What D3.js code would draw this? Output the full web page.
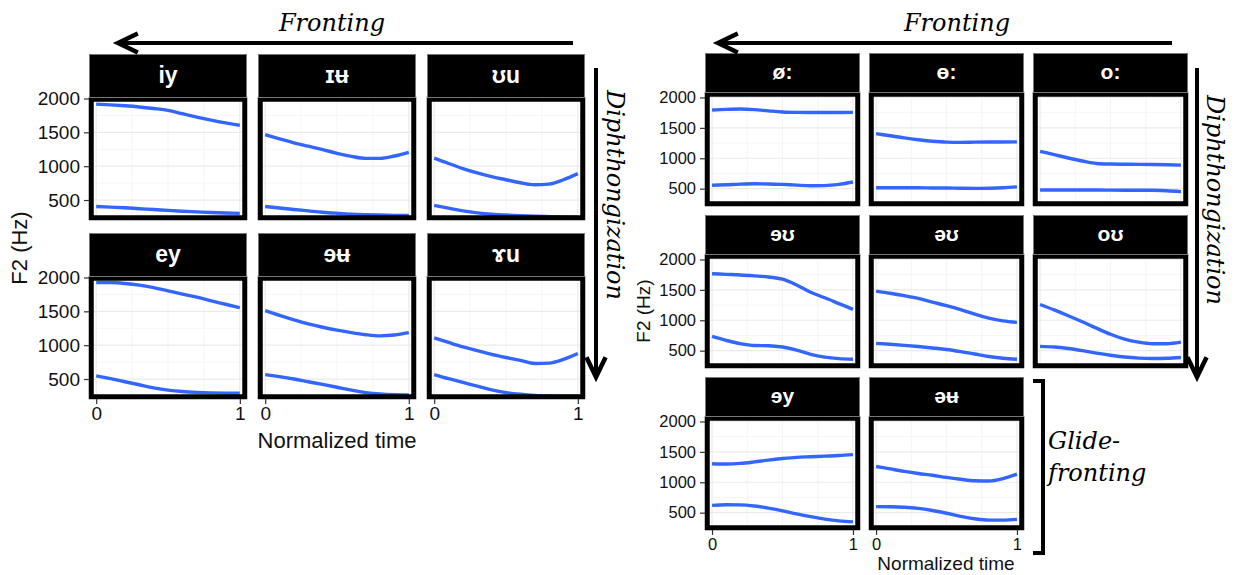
<!DOCTYPE html>
<html>
<head>
<meta charset="utf-8">
<script src="https://cdn.jsdelivr.net/npm/d3@7"></script>
<style>
  body { margin: 0; background: #fff; }
  svg { display: block; }
</style>
</head>
<body>
<script>
// normalized time samples (0..1) shared by every panel
var timePoints = [0, 0.1, 0.2, 0.3, 0.4, 0.5, 0.6, 0.7, 0.8, 0.9, 1];

// left figure: 2 x 3 facets
var leftLabels = ["iy", "ɪʉ", "ʊu", "ey", "ɘʉ", "ɤu"];
var leftUpper = [
  [1916, 1905, 1892, 1875, 1852, 1825, 1775, 1725, 1680, 1640, 1605],
  [1465, 1405, 1345, 1295, 1245, 1190, 1145, 1115, 1115, 1150, 1205],
  [1120, 1040, 965, 900, 845, 800, 755, 725, 735, 800, 890],
  [1926, 1925, 1912, 1888, 1850, 1803, 1755, 1710, 1655, 1605, 1553],
  [1510, 1440, 1375, 1315, 1265, 1222, 1185, 1155, 1138, 1150, 1185],
  [1108, 1040, 975, 920, 865, 818, 775, 730, 735, 790, 877]
];
var leftLower = [
  [405, 395, 385, 372, 360, 347, 335, 325, 315, 308, 303],
  [405, 382, 360, 340, 320, 305, 292, 284, 278, 274, 272],
  [420, 380, 340, 310, 290, 278, 268, 260, 255, 251, 248],
  [547, 505, 460, 415, 370, 336, 315, 303, 296, 292, 290],
  [566, 535, 500, 460, 420, 378, 335, 300, 278, 268, 265],
  [566, 505, 450, 395, 340, 300, 275, 258, 250, 247, 246]
];

// right figure: 3 rows, last row has 2 facets
var rightLabels = ["ø:", "ɵ:", "o:", "ɘʊ", "əʊ", "oʊ", "ɘy", "əʉ"];
var rightUpper = [
  [1795, 1805, 1810, 1800, 1780, 1762, 1755, 1753, 1753, 1753, 1755],
  [1405, 1370, 1335, 1305, 1280, 1265, 1262, 1265, 1267, 1268, 1270],
  [1115, 1060, 1005, 955, 915, 905, 902, 900, 897, 893, 888],
  [1765, 1755, 1745, 1730, 1712, 1675, 1580, 1460, 1370, 1275, 1180],
  [1480, 1445, 1405, 1360, 1300, 1240, 1175, 1100, 1035, 990, 965],
  [1260, 1170, 1075, 975, 870, 770, 690, 640, 615, 615, 640],
  [1305, 1300, 1310, 1335, 1365, 1390, 1410, 1420, 1430, 1440, 1455],
  [1260, 1220, 1180, 1145, 1115, 1080, 1050, 1025, 1020, 1060, 1135]
];
var rightLower = [
  [556, 565, 575, 580, 578, 570, 558, 548, 550, 570, 610],
  [515, 515, 515, 515, 512, 510, 507, 505, 508, 515, 530],
  [478, 478, 478, 477, 477, 476, 475, 474, 473, 465, 452],
  [735, 670, 615, 585, 582, 560, 510, 440, 395, 370, 360],
  [620, 605, 588, 568, 545, 520, 485, 445, 405, 375, 360],
  [570, 560, 535, 500, 460, 425, 395, 378, 372, 375, 388],
  [620, 630, 628, 610, 575, 530, 480, 435, 395, 365, 348],
  [600, 598, 590, 570, 535, 490, 440, 400, 378, 378, 390]
];

var yTicks = [500, 1000, 1500, 2000];
var yMinor = [250, 750, 1250, 1750];
var xTicks = [0, 1];
var xMinor = [0.25, 0.5, 0.75];

var svg = d3.select("body").append("svg")
  .attr("width", 1239).attr("height", 575);

var sans = "'Liberation Sans', Arial, Helvetica, sans-serif";
var serif = "'DejaVu Serif', serif";

function drawBlock(cfg) {
  var g = svg.append("g");
  var x = d3.scaleLinear().domain([-0.05, 1.05]).range([0, cfg.pw]);
  var y = d3.scaleLinear().domain(cfg.yDomain).range([cfg.ph, 0]);
  var line = d3.line()
    .x(function(d) { return x(d[0]); })
    .y(function(d) { return y(d[1]); })
    .curve(d3.curveMonotoneX);

  cfg.labels.forEach(function(lab, i) {
    var col = i % 3, row = Math.floor(i / 3);
    var px = cfg.colX[col];
    var sy = cfg.rowY[row];
    var py = sy + cfg.sh;
    var p = g.append("g").attr("transform", "translate(" + px + "," + py + ")");

    // strip
    g.append("rect")
      .attr("x", px + 0.5).attr("y", sy + 0.5)
      .attr("width", cfg.pw - 1).attr("height", cfg.sh)
      .attr("fill", "#000").attr("stroke", "#777").attr("stroke-width", 1);
    g.append("text")
      .attr("x", px + cfg.pw / 2).attr("y", sy + cfg.sh / 2 + 1)
      .attr("text-anchor", "middle").attr("dominant-baseline", "middle")
      .attr("fill", "#fff").attr("font-weight", "bold")
      .attr("font-family", sans).attr("font-size", cfg.stripFont)
      .text(lab);

    // panel background and grid
    p.append("rect").attr("width", cfg.pw).attr("height", cfg.ph).attr("fill", "#fff");
    p.selectAll("line.ymin").data(yMinor).enter().append("line")
      .attr("x1", 0).attr("x2", cfg.pw)
      .attr("y1", function(d) { return y(d); }).attr("y2", function(d) { return y(d); })
      .attr("stroke", "#f4f4f4").attr("stroke-width", 0.8);
    p.selectAll("line.xmin").data(xMinor).enter().append("line")
      .attr("y1", 0).attr("y2", cfg.ph)
      .attr("x1", function(d) { return x(d); }).attr("x2", function(d) { return x(d); })
      .attr("stroke", "#f2f2f2").attr("stroke-width", 0.8);
    p.selectAll("line.ymaj").data(yTicks).enter().append("line")
      .attr("x1", 0).attr("x2", cfg.pw)
      .attr("y1", function(d) { return y(d); }).attr("y2", function(d) { return y(d); })
      .attr("stroke", "#ebebeb").attr("stroke-width", 1.2);
    p.selectAll("line.xmaj").data(xTicks).enter().append("line")
      .attr("y1", 0).attr("y2", cfg.ph)
      .attr("x1", function(d) { return x(d); }).attr("x2", function(d) { return x(d); })
      .attr("stroke", "#ebebeb").attr("stroke-width", 1.2);

    // the two formant tracks
    [cfg.lower[i], cfg.upper[i]].forEach(function(vals) {
      p.append("path")
        .datum(timePoints.map(function(t, k) { return [t, vals[k]]; }))
        .attr("d", line)
        .attr("fill", "none").attr("stroke", "#3366FF")
        .attr("stroke-width", 3.4);
    });

    // thick border
    p.append("rect")
      .attr("x", 2.25).attr("y", 2.25).attr("width", cfg.pw - 4.5).attr("height", cfg.ph - 4.5)
      .attr("fill", "none").attr("stroke", "#000").attr("stroke-width", 5);

    // y axis on first column
    if (col === 0) {
      var ya = p.append("g").call(d3.axisLeft(y).tickValues(yTicks).tickSize(5).tickPadding(4).tickFormat(d3.format("d")));
      ya.select(".domain").remove();
      ya.selectAll("line").attr("stroke", "#333").attr("stroke-width", 1.2);
      ya.selectAll("text").attr("font-family", sans).attr("font-size", cfg.tickFont).attr("fill", "#111");
    }
    // x axis on bottom panels
    if (cfg.bottom.indexOf(i) >= 0) {
      var xa = p.append("g").attr("transform", "translate(0," + cfg.ph + ")")
        .call(d3.axisBottom(x).tickValues(xTicks).tickSize(5).tickPadding(3).tickFormat(d3.format("d")));
      xa.select(".domain").remove();
      xa.selectAll("line").attr("stroke", "#333").attr("stroke-width", 1.2);
      xa.selectAll("text").attr("font-family", sans).attr("font-size", cfg.tickFont).attr("fill", "#111");
    }
  });

  // axis titles
  svg.append("text")
    .attr("x", cfg.xTitle[0]).attr("y", cfg.xTitle[1])
    .attr("text-anchor", "middle").attr("font-family", sans)
    .attr("font-size", cfg.titleFont).attr("fill", "#111")
    .text("Normalized time");
  svg.append("text")
    .attr("transform", "translate(" + cfg.yTitle[0] + "," + cfg.yTitle[1] + ") rotate(-90)")
    .attr("text-anchor", "middle").attr("font-family", sans)
    .attr("font-size", cfg.titleFont).attr("fill", "#111")
    .text("F2 (Hz)");
}

drawBlock({
  labels: leftLabels, upper: leftUpper, lower: leftLower,
  colX: [89, 258, 427], rowY: [54, 233],
  pw: 158, sh: 43, ph: 123,
  yDomain: [205, 2022],
  bottom: [3, 4, 5],
  stripFont: 23, tickFont: 19, titleFont: 22,
  xTitle: [337, 448], yTitle: [27, 248]
});

drawBlock({
  labels: rightLabels, upper: rightUpper, lower: rightLower,
  colX: [705, 869, 1033], rowY: [53, 215, 377],
  pw: 155, sh: 39, ph: 114,
  yDomain: [215, 2090],
  bottom: [6, 7],
  stripFont: 21, tickFont: 16.5, titleFont: 19,
  xTitle: [946, 570], yTitle: [650, 311]
});

// annotation arrows
function arrow(x1, y1, x2, y2) {
  var ang = Math.atan2(y2 - y1, x2 - x1), L = 22, a = 0.45;
  svg.append("line")
    .attr("x1", x1).attr("y1", y1).attr("x2", x2).attr("y2", y2)
    .attr("stroke", "#000").attr("stroke-width", 4);
  svg.append("path")
    .attr("d", "M" + (x2 - L * Math.cos(ang - a)) + "," + (y2 - L * Math.sin(ang - a)) +
      "L" + x2 + "," + y2 +
      "L" + (x2 - L * Math.cos(ang + a)) + "," + (y2 - L * Math.sin(ang + a)))
    .attr("fill", "none").attr("stroke", "#000").attr("stroke-width", 4.5)
    .attr("stroke-linejoin", "miter");
}

function italic(x, y, txt, rot) {
  var t = svg.append("text")
    .attr("font-family", serif).attr("font-style", "italic")
    .attr("font-size", 24).attr("fill", "#000");
  if (rot) {
    t.attr("transform", "translate(" + x + "," + y + ") rotate(90)").attr("text-anchor", "middle");
  } else {
    t.attr("x", x).attr("y", y);
  }
  t.text(txt);
  return t;
}

arrow(573, 43, 118, 43);
italic(332, 31, "Fronting").attr("text-anchor", "middle");
arrow(596, 68, 596, 377);
italic(607, 195, "Diphthongization", true);

arrow(1172, 43, 718, 43);
italic(957, 31, "Fronting").attr("text-anchor", "middle");
arrow(1197, 68, 1197, 377);
italic(1207, 200, "Diphthongization", true);

// glide-fronting bracket
svg.append("path")
  .attr("d", "M1033,381 H1043 V553 H1033")
  .attr("fill", "none").attr("stroke", "#000").attr("stroke-width", 4);
italic(1048, 449, "Glide-");
italic(1048, 481, "fronting");
</script>
</body>
</html>
